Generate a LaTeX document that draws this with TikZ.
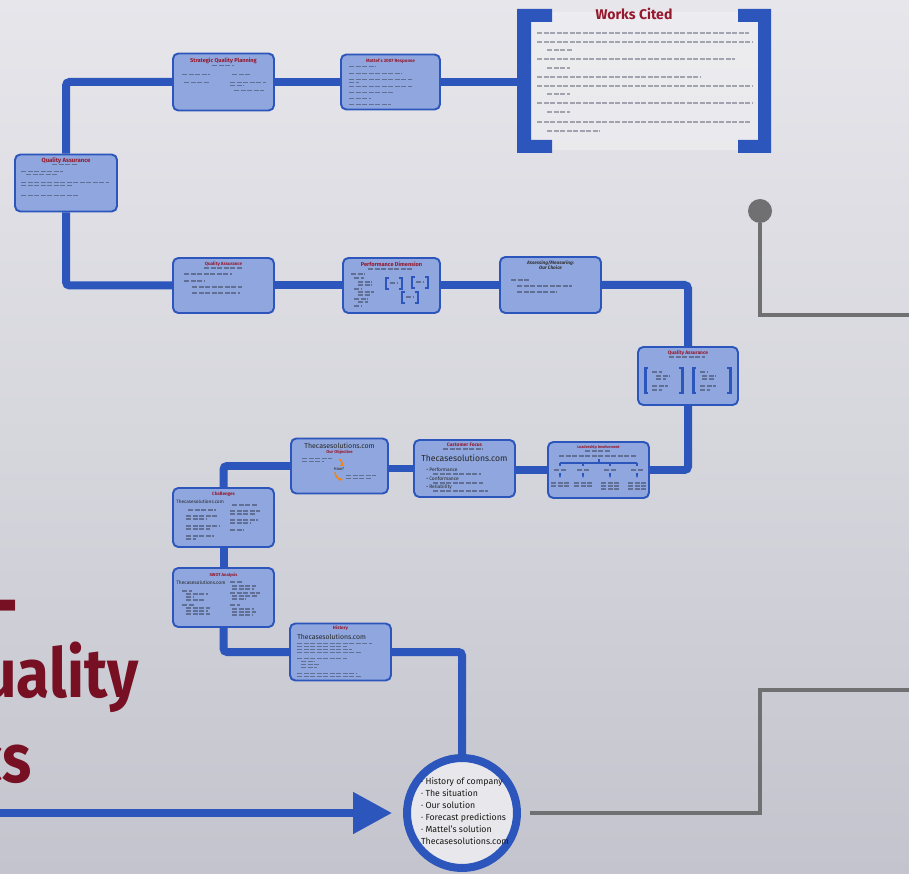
\documentclass[tikz,border=0pt]{standalone}
\usepackage{fontspec}
\setmainfont{Fira Sans}
\usetikzlibrary{arrows.meta,backgrounds}
\definecolor{pathblue}{RGB}{44,86,188}
\definecolor{paneblue}{RGB}{143,167,222}
\definecolor{titlered}{RGB}{150,24,44}
\definecolor{bigred}{RGB}{118,16,34}
\definecolor{wire}{RGB}{112,112,114}
\definecolor{inkgray}{RGB}{52,56,78}
\definecolor{bgtop}{RGB}{230,230,235}
\definecolor{bgmid}{RGB}{214,214,221}
\definecolor{bgbot}{RGB}{196,196,206}
\tikzset{
  pane/.style 2 args={draw=pathblue, line width=1.1pt, fill=paneblue, rounded corners=3pt,
    minimum width=#1*0.02cm, minimum height=#2*0.02cm, inner sep=0pt},
  panettl/.style={text=titlered, font=\bfseries\fontsize{2.6}{3}\selectfont, inner sep=0pt},
  sitename/.style={font=\fontsize{#1}{#1}\selectfont, inner sep=0pt, text=black!85},
  scrib/.style={draw=inkgray, line width=0.75pt, opacity=.5, dash pattern=on 3pt off .7pt},
  route/.style={draw=pathblue, line width=0.16cm, rounded corners=2pt},
  wiring/.style={draw=wire, line width=0.08cm},
  brk/.style={draw=pathblue, line width=0.8pt},
}
% one blurred line of small print, from the north west corner of a pane
\newcommand{\scr}[4]{\draw[scrib] ([shift={(#2,#3)}]#1.north west) -- ++(#4,0);}
% a pair of square brackets
\newcommand{\brk}[4]{\draw[brk] (#1+3,#2) -- (#1,#2) -- (#1,#2+#4) -- (#1+3,#2+#4);
  \draw[brk] (#1+#3-3,#2) -- (#1+#3,#2) -- (#1+#3,#2+#4) -- (#1+#3-3,#2+#4);}
\begin{document}
\begin{tikzpicture}[x=0.02cm,y=-0.02cm]
\useasboundingbox (0,0) rectangle (909,874);
\begin{scope}[on background layer]
  \shade[top color=bgtop, bottom color=bgbot, middle color=bgmid] (0,0) rectangle (909,874);
\end{scope}

% panes
\node[pane={102}{57}] (qaone) at (66,183) {};
\node[pane={101}{57}] (sqp) at (223.5,82) {};
\node[pane={99}{55}] (mattel) at (390.5,82) {};
\node[minimum width=254*0.02cm, minimum height=144*0.02cm, inner sep=0pt] (cited) at (644,81) {};
\node[pane={101}{55}] (qatwo) at (223.5,285.5) {};
\node[pane={97}{55}] (perf) at (391.5,285.5) {};
\node[pane={101}{56}] (meas) at (550.5,285) {};
\node[pane={100}{58}] (qathree) at (688,376) {};
\node[pane={101}{56}] (lead) at (598.5,470) {};
\node[pane={101}{57}] (cust) at (464.5,468.5) {};
\node[pane={97}{55}] (obj) at (339.5,466) {};
\node[pane={101}{59}] (chal) at (223.5,517.5) {};
\node[pane={101}{59}] (swot) at (223.5,597.5) {};
\node[pane={101}{57}] (hist) at (340.5,652) {};
\node[circle, draw=pathblue, line width=0.16cm, fill=bgmid!55!white, minimum size=2.2cm, inner sep=0pt] (hub) at (462,813) {};

\begin{scope}[on background layer]
  \draw[route] (qaone.north) |- (sqp.west);
  \draw[route] (sqp.east) -- (mattel.west);
  \draw[route] (mattel.east) -- (mattel.east -| cited.west);
  \draw[route] (qaone.south) |- (qatwo.west);
  \draw[route] (qatwo.east) -- (perf.west);
  \draw[route] (perf.east) -- (perf.east -| meas.west);
  \draw[route] (meas.east) -| (qathree.north);
  \draw[route] (qathree.south) |- (lead.east);
  \draw[route] (lead.west) -- (lead.west -| cust.east);
  \draw[route] (cust.west) -- (cust.west -| obj.east);
  \draw[route] (obj.west) -| (chal.north);
  \draw[route] (chal.south) -- (swot.north);
  \draw[route] (swot.south) |- (hist.west);
  \draw[route] (hist.east) -| (hub.north);
\end{scope}

% Quality Assurance (left)
\node[panettl, font=\bfseries\fontsize{3.4}{4}\selectfont] at ([shift={(0,7)}]qaone.north) {Quality Assurance};
\scr{qaone}{38}{11}{26}
\scr{qaone}{7}{18}{42}
\scr{qaone}{12}{21}{32}
\scr{qaone}{7}{29}{88}
\scr{qaone}{7}{32}{52}
\scr{qaone}{7}{42}{58}

% Strategic Quality Planning
\node[panettl, font=\bfseries\fontsize{3.2}{4}\selectfont] at ([shift={(0,8)}]sqp.north) {Strategic Quality Planning};
\scr{sqp}{40}{13}{22}
\scr{sqp}{10}{22}{28}
\scr{sqp}{60}{22}{18}
\scr{sqp}{12}{30}{26}
\scr{sqp}{58}{30}{36}
\scr{sqp}{58}{33}{14}
\scr{sqp}{62}{38}{30}

% Mattel's 2007 Response
\node[panettl] at ([shift={(0,8)}]mattel.north) {Mattel's 2007 Response};
\foreach \dy/\len in {13/27,20/53,26/63,29/10,33/63,39/45,45/22,51/42}{
  \scr{mattel}{9}{\dy}{\len}
}

% Works Cited
\fill[white, opacity=.3] (528,12) rectangle (762,150);
\fill[pathblue] (517,9) -| (552,22) -| (531,140) -| (552,153) -| (517,9) -- cycle;
\fill[pathblue] (771,9) -| (738,22) -| (758,140) -| (738,153) -| (771,9) -- cycle;
\node[font=\bfseries\fontsize{8}{9}\selectfont, text=titlered, inner sep=0pt] (citedttl) at (634,14) {Works Cited};
\foreach \xa/\ya/\len in {537/33/212, 537/42/215, 547/50/25, 537/59/198, 547/68/23, 537/77/163,
    537/86/215, 547/94/23, 537/103/215, 547/112/23, 537/122/213, 547/131/53}{
  \draw[scrib, opacity=.4] (\xa,\ya) -- ++(\len,0);
}

% Quality Assurance (middle)
\node[panettl] at ([shift={(0,7)}]qatwo.north) {Quality Assurance};
\scr{qatwo}{32}{11}{38}
\scr{qatwo}{12}{17}{48}
\scr{qatwo}{12}{24}{20}
\scr{qatwo}{20}{30}{50}
\scr{qatwo}{20}{36}{48}

% Performance Dimension
\node[panettl, font=\bfseries\fontsize{3.2}{4}\selectfont] at ([shift={(0,7)}]perf.north) {Performance Dimension};
\scr{perf}{26}{12}{44}
\foreach \dx/\dy/\len in {9/17/14,12/21/10,16/25/14,16/28/14,12/32/8,16/35/16,16/38/12,12/42/14,16/45/10,12/49/8}{
  \scr{perf}{\dx}{\dy}{\len}
}
\brk{386}{278}{16}{11}
\brk{412}{277}{16}{11}
\brk{402}{292}{16}{11}
\foreach \xa/\ya in {390/283,416/282,406/297}{
  \draw[scrib] (\xa,\ya) -- ++(8,0);
}

% Assessing/Measuring
\node[font=\bfseries\itshape\fontsize{2.7}{3.3}\selectfont, align=center, inner sep=0pt, text=black!80]
  at ([shift={(0,9)}]meas.north) {Assessing/Measuring:\\Our Choice};
\scr{meas}{12}{24}{18}
\scr{meas}{18}{30}{55}
\scr{meas}{18}{36}{40}

% Quality Assurance (right)
\node[panettl, font=\bfseries\fontsize{2.8}{3}\selectfont] at ([shift={(0,7)}]qathree.north) {Quality Assurance};
\scr{qathree}{32}{11}{36}
\begin{scope}[brk/.append style={line width=1.7pt}]
  \brk{645}{368}{37}{25}
  \brk{693}{368}{37}{25}
\end{scope}
\foreach \xa/\ya/\len in {652/372/10,656/376/14,656/379/10,652/386/16,652/390/10,
    700/372/8,702/376/14,702/379/12,700/386/16,700/390/10}{
  \draw[scrib] (\xa,\ya) -- ++(\len,0);
}

% Leadership Involvement
\node[panettl, font=\bfseries\fontsize{2.2}{3}\selectfont] at ([shift={(0,6)}]lead.north) {Leadership Involvement};
\scr{lead}{38}{10}{26}
\scr{lead}{12}{15}{78}
\draw[brk, line width=.6pt] (599,459) -- (599,463);
\draw[brk, line width=.6pt] (560,463) -- (637,463);
\foreach \xa in {560,583,610,637}{
  \draw[brk, line width=.6pt] (\xa,463) -- (\xa,466);
  \draw[scrib] (\xa-6,470) -- ++(12,0);
  \draw[brk, line width=.6pt, -{Stealth[length=1.5pt]}] (\xa,473) -- (\xa,478);
  \draw[scrib] (\xa-9,483) -- ++(18,0);
  \draw[scrib] (\xa-9,486) -- ++(18,0);
}
\draw[scrib] (601,489) -- ++(18,0);
\draw[scrib] (628,489) -- ++(18,0);

% Customer Focus
\node[panettl, font=\bfseries\fontsize{2.8}{3}\selectfont] at ([shift={(0,6)}]cust.north) {Customer Focus};
\scr{cust}{30}{10}{40}
\node[sitename=4.9] at ([shift={(0,19)}]cust.north) {Thecasesolutions.com};
\node[sitename=2.8, anchor=west] at ([shift={(13,31)}]cust.north west) {\textbullet\ Performance};
\scr{cust}{20}{35}{48}
\node[sitename=2.8, anchor=west] at ([shift={(13,40)}]cust.north west) {\textbullet\ Conformance};
\scr{cust}{20}{44}{50}
\node[sitename=2.8, anchor=west] at ([shift={(13,48)}]cust.north west) {\textbullet\ Reliability};
\scr{cust}{20}{52}{55}

% Our Objective
\node[sitename=4] at ([shift={(0,8)}]obj.north) {Thecasesolutions.com};
\node[panettl, font=\bfseries\fontsize{2.4}{3}\selectfont] at ([shift={(0,15)}]obj.north) {Our Objective};
\scr{obj}{12}{21}{30}
\scr{obj}{12}{24}{22}
\node[sitename=2.4] at (339,469) {How?};
\scr{obj}{56}{38}{30}
\scr{obj}{56}{41}{26}
\draw[orange, line width=.8pt, -{Stealth[length=2.5pt]}] (339,459) to[bend left=70] (340,466);
\draw[orange, line width=.8pt, -{Stealth[length=2.5pt]}] (335,472) to[bend right=50] (343,479);

% Challenges
\node[panettl] at ([shift={(0,7)}]chal.north) {Challenges};
\node[sitename=2.7, anchor=west] at ([shift={(4,15)}]chal.north west) {Thecasesolutions.com};
\scr{chal}{16}{23}{28}
\scr{chal}{60}{18}{26}
\foreach \dx/\dy/\len in {14/29/32,14/32/20,14/39/34,14/42/24,14/49/28,14/52/10,
    58/24/30,58/27/26,58/33/28,58/36/20,58/43/14}{
  \scr{chal}{\dx}{\dy}{\len}
}

% SWOT Analysis
\node[panettl, font=\bfseries\fontsize{2.4}{3}\selectfont] at ([shift={(0,8)}]swot.north) {SWOT Analysis};
\node[sitename=2.8, anchor=west] at ([shift={(4,16)}]swot.north west) {Thecasesolutions.com};
\foreach \dx/\dy/\len in {10/24/10,14/27/22,14/30/8,14/33/18,10/38/12,14/41/24,14/44/22,14/47/24,
    58/15/12,60/19/24,60/22/22,58/26/30,60/29/26,60/32/14,58/38/10,60/42/22,60/45/24,60/48/20}{
  \scr{swot}{\dx}{\dy}{\len}
}

% History
\node[panettl] at ([shift={(0,6)}]hist.north) {History};
\node[sitename=3.9, anchor=west] at ([shift={(8,14)}]hist.north west) {Thecasesolutions.com};
\foreach \dx/\dy/\len in {8/21/75,8/24/50,8/27/55,8/30/65,8/36/50,12/39/14,12/42/18,12/45/16,8/51/60,8/54/64}{
  \scr{hist}{\dx}{\dy}{\len}
}

% hub
\node[font=\fontsize{5}{6.9}\selectfont, align=left, inner sep=0pt, text=black!90] (hubtext) at (465,811)
  {\textperiodcentered\ History of company\\ \textperiodcentered\ The situation\\
   \textperiodcentered\ Our solution\\ \textperiodcentered\ Forecast predictions\\
   \textperiodcentered\ Mattel's solution\\ Thecasesolutions.com};
\coordinate (tail) at (0,813);
\draw[route, -{Triangle[length=0.78cm,width=0.8cm]}, shorten >=0.22cm] (tail) -- (hub.west);

% grey wiring
\coordinate (wa) at (760,813);
\coordinate (wb) at (760,690);
\coordinate (wc) at (909,690);
\draw[wiring, shorten <=0.18cm] (hub.east) -- (wa) -- (wb) -- (wc);
\node[circle, fill=wire, minimum size=0.48cm, inner sep=0pt] (pin) at (760,211) {};
\coordinate (wd) at (760,315);
\coordinate (we) at (909,315);
\draw[wiring] (pin) -- (wd) -- (we);

% title, cut off at the left edge
\node[text=bigred, font=\bfseries\fontsize{39}{39}\selectfont, anchor=base east, inner sep=0pt] (ttla) at (17,633) {\scalebox{.88}[1.3]{–}};
\node[text=bigred, font=\bfseries\fontsize{39}{39}\selectfont, anchor=base west, inner sep=0pt] (ttlb) at (-18,697) {\scalebox{.88}[1]{uality}};
\node[text=bigred, font=\bfseries\fontsize{39}{39}\selectfont, anchor=base east, inner sep=0pt] (ttlc) at (32,782) {\scalebox{.88}[1]{cs}};
\end{tikzpicture}
\end{document}
